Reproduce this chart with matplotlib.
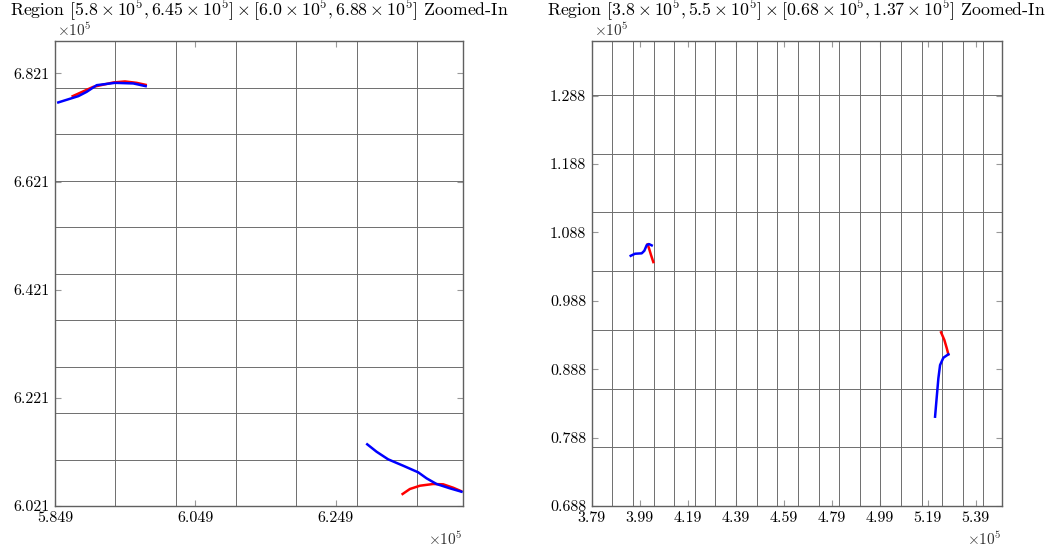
import numpy as np
import matplotlib
matplotlib.use("Agg")
import matplotlib.pyplot as plt
from matplotlib.ticker import FixedLocator, FuncFormatter

plt.rcParams['font.family'] = 'serif'
plt.rcParams['font.serif'] = ['cmr10']
plt.rcParams['mathtext.fontset'] = 'cm'
plt.rcParams['axes.unicode_minus'] = False

# values in units of 1e5
# left panel
L_red1_x = [5.8742, 5.9035, 5.9320, 5.9486, 5.9653, 5.9781]
L_red1_y = [6.7790, 6.7962, 6.8043, 6.8062, 6.8036, 6.7999]
L_blue1_x = [5.8537, 5.8822, 5.8941, 5.9084, 5.9344, 5.9605, 5.9781]
L_blue1_y = [6.7674, 6.7790, 6.7870, 6.7993, 6.8036, 6.8025, 6.7975]
L_red2_x = [6.3440, 6.3543, 6.3686, 6.3875, 6.4018, 6.4160, 6.4270]
L_red2_y = [6.0432, 6.0524, 6.0585, 6.0617, 6.0611, 6.0548, 6.0487]
L_blue2_x = [6.2936, 6.3069, 6.3234, 6.3448, 6.3662, 6.3781, 6.3923, 6.4113, 6.4279]
L_blue2_y = [6.1351, 6.1214, 6.1073, 6.0955, 6.0833, 6.0722, 6.0617, 6.0537, 6.0474]

# right panel
R_red1_x = [4.0233, 4.0300, 4.0371, 4.0467]
R_red1_y = [1.0706, 1.0633, 1.0550, 1.0447]
R_blue1_x = [3.9525, 3.9704, 3.9983, 4.0092, 4.0192, 4.0288, 4.0400]
R_blue1_y = [1.0539, 1.0569, 1.0575, 1.0612, 1.0696, 1.0710, 1.0691]
R_red2_x = [5.2454, 5.2592, 5.2692, 5.2758]
R_red2_y = [0.9419, 0.9307, 0.9186, 0.9098]
R_blue2_x = [5.2758, 5.2550, 5.2413, 5.2342, 5.2275, 5.2204]
R_blue2_y = [0.9098, 0.9048, 0.8941, 0.8747, 0.8478, 0.8186]

L_xlim = (5.849, 6.430)
L_ylim = (6.021, 6.881)
R_xlim = (3.790, 5.498)
R_ylim = (0.688, 1.368)
L_xticks = [5.849, 6.049, 6.249]
L_yticks = [6.021, 6.221, 6.421, 6.621, 6.821]
R_xticks = [3.79, 3.99, 4.19, 4.39, 4.59, 4.79, 4.99, 5.19, 5.39]
R_yticks = [0.688, 0.788, 0.888, 0.988, 1.088, 1.188, 1.288]
grid_step = 0.0859

L_title = r'Region $[5.8\times10^5, 6.45\times10^5]\times[6.0\times10^5, 6.88\times10^5]$ Zoomed-In'
R_title = r'Region $[3.8\times10^5, 5.5\times10^5]\times[0.68\times10^5, 1.37\times10^5]$ Zoomed-In'

fig = plt.figure(figsize=(10.55, 5.52), dpi=100)
ax1 = fig.add_axes([55/1055, 46/552, 408/1055, 465/552])
ax2 = fig.add_axes([591.7/1055, 46/552, 410/1055, 465/552])


def style(ax, xlim, ylim, xticks, yticks, xdec, ydec, title):
    ax.set_xlim(*xlim)
    ax.set_ylim(*ylim)
    ax.xaxis.set_major_locator(FixedLocator(xticks))
    ax.yaxis.set_major_locator(FixedLocator(yticks))
    ax.xaxis.set_major_formatter(FuncFormatter(lambda v, p: f"{v:.{xdec}f}"))
    ax.yaxis.set_major_formatter(FuncFormatter(lambda v, p: f"{v:.{ydec}f}"))
    gx = np.arange(xlim[0] + grid_step, xlim[1] - 0.01, grid_step)
    gy = np.arange(ylim[0] + grid_step, ylim[1] - 0.01, grid_step)
    ax.xaxis.set_minor_locator(FixedLocator(gx))
    ax.yaxis.set_minor_locator(FixedLocator(gy))
    ax.grid(which='minor', color='#6e6e6e', linewidth=0.7)
    ax.grid(which='major', visible=False)
    ax.tick_params(which='major', direction='in', length=4, width=0.8,
                   color='#999999', top=True, right=True, labelsize=11.5, pad=4)
    ax.tick_params(which='minor', length=0)
    for s in ax.spines.values():
        s.set_color('#606060')
        s.set_linewidth(1.0)
    ax.set_title(title, fontsize=12.8, pad=18)
    ax.text(0.005, 1.004, r'$\times10^{5}$', transform=ax.transAxes,
            fontsize=11, ha='left', va='bottom', color='#333333')
    ax.text(1.0, -0.052, r'$\times10^{5}$', transform=ax.transAxes,
            fontsize=11, ha='right', va='top', color='#333333')


ax1.plot(L_red1_x, L_red1_y, color='red', lw=1.8)
ax1.plot(L_red2_x, L_red2_y, color='red', lw=1.8)
ax1.plot(L_blue1_x, L_blue1_y, color='blue', lw=1.8)
ax1.plot(L_blue2_x, L_blue2_y, color='blue', lw=1.8)
style(ax1, L_xlim, L_ylim, L_xticks, L_yticks, 3, 3, L_title)

ax2.plot(R_red1_x, R_red1_y, color='red', lw=1.8)
ax2.plot(R_red2_x, R_red2_y, color='red', lw=1.8)
ax2.plot(R_blue1_x, R_blue1_y, color='blue', lw=1.8)
ax2.plot(R_blue2_x, R_blue2_y, color='blue', lw=1.8)
style(ax2, R_xlim, R_ylim, R_xticks, R_yticks, 2, 3, R_title)

fig.savefig('out.png', dpi=100)
